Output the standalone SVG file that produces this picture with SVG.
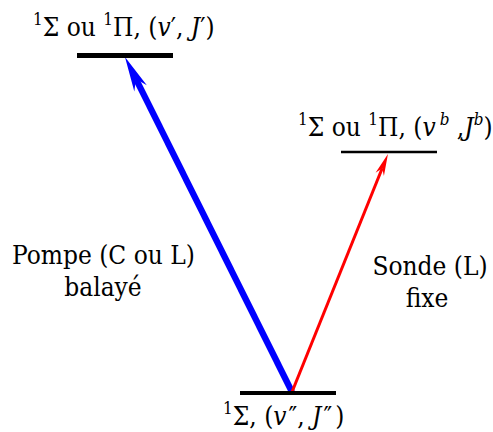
<svg xmlns="http://www.w3.org/2000/svg" width="493" height="432" viewBox="0 0 493 432">
<style>
text{font-family:"DejaVu Serif Condensed","DejaVu Serif",serif;font-size:26px;fill:#000}
.i{font-style:italic}
.s{font-size:17px}
.lvl{stroke:#000;fill:none}
</style>
<defs>
<marker id="hb" markerUnits="userSpaceOnUse" markerWidth="40" markerHeight="20" viewBox="0 -10 40 20" refX="10.5" refY="0" orient="auto" overflow="visible">
<path d="M35,0 L0,-7 L10.5,0 L0,7 Z" fill="#0000ff"/>
</marker>
<marker id="hr" markerUnits="userSpaceOnUse" markerWidth="30" markerHeight="14" viewBox="0 -7 30 14" refX="6.6" refY="0" orient="auto" overflow="visible">
<path d="M22,0 L0,-4.5 L6.6,0 L0,4.5 Z" fill="#ff0000"/>
</marker>
</defs>
<g id="connectors">
<line id="pompe" x1="292" y1="392" x2="135.9" y2="78.9" stroke="#0000ff" stroke-width="6.3" marker-end="url(#hb)"/>
<line id="sonde" x1="292" y1="392" x2="382.2" y2="168.3" stroke="#ff0000" stroke-width="3" marker-end="url(#hr)"/>
</g>
<g id="niveau-haut">
<line class="lvl" x1="77" y1="55.5" x2="173" y2="55.5" stroke-width="5"/>
<text x="33" y="36"><tspan class="s" dy="-11">1</tspan><tspan dy="11">Σ ou </tspan><tspan class="s" dy="-11">1</tspan><tspan dy="11">Π, (</tspan><tspan class="i">v</tspan>′, <tspan class="i">J</tspan>′)</text>
</g>
<g id="niveau-sonde">
<line class="lvl" x1="341" y1="152" x2="437" y2="152" stroke-width="2.5"/>
<text x="298" y="136"><tspan class="s" dy="-11">1</tspan><tspan dy="11">Σ ou </tspan><tspan class="s" dy="-11">1</tspan><tspan dy="11">Π, (</tspan><tspan class="i">v</tspan><tspan class="i s" dx="4" dy="-11">b</tspan><tspan dy="11"> ,</tspan><tspan class="i">J</tspan><tspan class="i s" dy="-11">b</tspan><tspan dy="11">)</tspan></text>
</g>
<g id="niveau-bas">
<line class="lvl" x1="240" y1="393" x2="336" y2="393" stroke-width="4"/>
<text x="223" y="425"><tspan class="s" dy="-11">1</tspan><tspan dy="11">Σ, (</tspan><tspan class="i">v</tspan><tspan dx="2">″</tspan>, <tspan class="i">J</tspan><tspan dx="2">″</tspan><tspan dx="3">)</tspan></text>
</g>
<g id="label-pompe">
<text x="103.5" y="264" text-anchor="middle">Pompe (C ou L)</text>
<text x="103" y="296" text-anchor="middle">balayé</text>
</g>
<g id="label-sonde">
<text x="430" y="275" text-anchor="middle">Sonde (L)</text>
<text x="427" y="307" text-anchor="middle">fixe</text>
</g>
</svg>
